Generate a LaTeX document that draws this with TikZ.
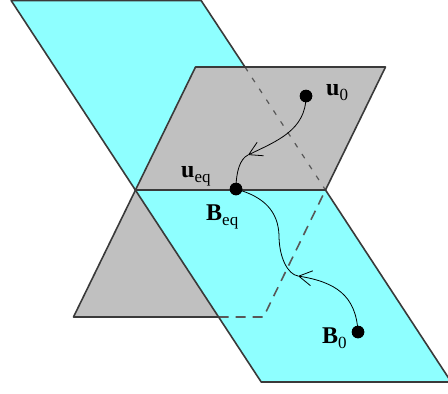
\documentclass[tikz,border=0pt]{standalone}
\usepackage{fontspec}
\setmainfont{Liberation Serif}
\usetikzlibrary{arrows.meta}
\definecolor{planecyan}{RGB}{142,255,255}
\definecolor{planegray}{RGB}{192,192,192}
\definecolor{edgecol}{RGB}{58,58,58}
\tikzset{
 edge/.style={draw=edgecol, line width=1.6pt, line join=round, line cap=round},
 hiddenA/.style={draw=edgecol!85, line width=1.2pt, dash pattern=on 5pt off 8pt},
 hiddenB/.style={draw=edgecol!85, line width=1.6pt, dash pattern=on 10pt off 7pt},
 traj/.style={draw=black, line width=0.8pt},
 trajarrow/.style={traj, -{Straight Barb[length=13pt,width=15pt,line width=0.8pt]}},
 dot/.style={circle, fill=black, inner sep=0pt, minimum size=12.5pt},
 lbl/.style={inner sep=0pt, anchor=base west, font=\fontsize{24}{24}\selectfont},
}
\newcommand\sublbl[2]{\textbf{#1}\raisebox{-5pt}{\fontsize{17}{17}\selectfont #2}}
\begin{document}
\begin{tikzpicture}[x=1pt,y=-1pt]
\useasboundingbox (0,0) rectangle (448,394);
\clip (0,0) rectangle (448,394);
% plane corners
\coordinate (P) at (135.5,190);
\coordinate (Q) at (325.5,190);
\coordinate (C1) at (11.2,0.6);
\coordinate (C2) at (201.2,0.6);
\coordinate (C3) at (451.2,382);
\coordinate (C4) at (261.2,382);
\coordinate (G1) at (73.5,317);
\coordinate (G2) at (263.5,317);
\coordinate (G3) at (385.5,67);
\coordinate (G4) at (195.5,67);
\coordinate (X1) at (245,67);
\coordinate (X2) at (218.7,317);
% fills
\fill[planecyan] (C1) -- (C2) -- (Q) -- (P) -- cycle;
\fill[planegray] (G1) -- (G2) -- (G3) -- (G4) -- cycle;
\fill[planecyan] (P) -- (Q) -- (C3) -- (C4) -- cycle;
% hidden edges
\draw[hiddenA] (X1) -- (Q);
\draw[hiddenB] (X2) -- (G2) -- (Q);
% visible edges
\draw[edge] (C1) -- (C2) -- (X1);
\draw[edge] (C1) -- (C4) -- (C3) -- (Q);
\draw[edge] (X2) -- (G1) -- (P) -- (G4) -- (G3) -- (Q) -- (P);
% points
\coordinate (T1) at (248,155);
\coordinate (T2) at (298,276);
\coordinate (M2) at (279,235);
\node[dot] (u0) at (306,96) {};
\node[dot] (eq) at (236,189) {};
\node[dot] (B0) at (358,332) {};
% trajectories
\draw[trajarrow] (u0.center) .. controls (306,130) and (277,141) .. (T1);
\draw[traj] (T1) .. controls (239.9,158.9) and (236,172) .. (eq.center);
\draw[trajarrow] (B0.center) .. controls (356,295) and (335,282) .. (T2);
\draw[traj] (T2) .. controls (288,274.4) and (279,258) .. (M2);
\draw[traj] (M2) .. controls (278,212) and (265,197) .. (eq.center);
\node[dot] at (u0) {};
\node[dot] at (eq) {};
\node[dot] at (B0) {};
% labels
\node[lbl] (lu0) at (326,95) {\sublbl{u}{0}};
\node[lbl] (lueq) at (181,177) {\sublbl{u}{eq}};
\node[lbl] (lBeq) at (206,220) {\sublbl{B}{eq}};
\node[lbl] (lB0) at (322,343) {\sublbl{B}{0}};
\end{tikzpicture}
\end{document}
